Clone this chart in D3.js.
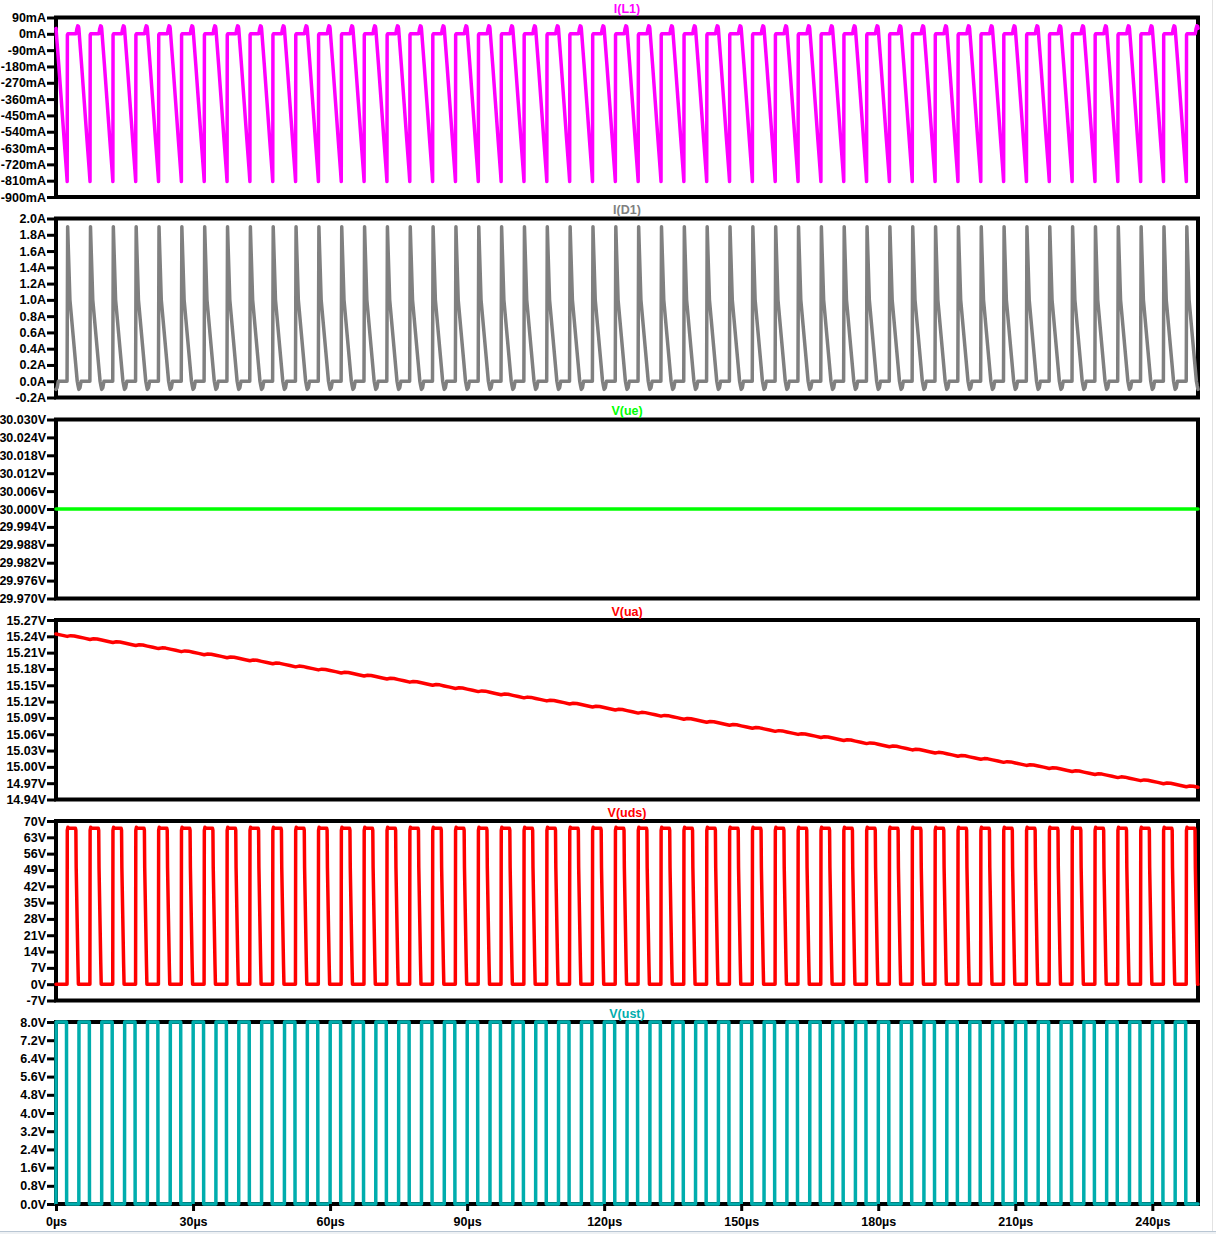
<!DOCTYPE html>
<html><head><meta charset="utf-8">
<script src="https://cdn.jsdelivr.net/npm/d3@7"></script>
<style>
html,body{margin:0;padding:0;background:#fff;}
svg{display:block;}
text{font-family:"Liberation Sans",Arial,sans-serif;font-weight:bold;font-size:12.5px;}
</style></head><body>
<svg id="chart" width="1216" height="1234"></svg>
<script>
// ---------------- data ----------------
const T_END = 250;          // µs
const PERIOD = 5;           // µs (200 kHz switching)

const xTickValues = [0, 30, 60, 90, 120, 150, 180, 210, 240];
const xTickLabels = ["0µs","30µs","60µs","90µs","120µs","150µs","180µs","210µs","240µs"];

const iL1Ticks = [90, 0, -90, -180, -270, -360, -450, -540, -630, -720, -810, -900];
const iL1TickLabels = ["90mA","0mA","-90mA","-180mA","-270mA","-360mA","-450mA","-540mA","-630mA","-720mA","-810mA","-900mA"];

const iD1Ticks = [2.0, 1.8, 1.6, 1.4, 1.2, 1.0, 0.8, 0.6, 0.4, 0.2, 0.0, -0.2];
const iD1TickLabels = ["2.0A","1.8A","1.6A","1.4A","1.2A","1.0A","0.8A","0.6A","0.4A","0.2A","0.0A","-0.2A"];

const ueTicks = [30.030, 30.024, 30.018, 30.012, 30.006, 30.000, 29.994, 29.988, 29.982, 29.976, 29.970];
const ueTickLabels = ["30.030V","30.024V","30.018V","30.012V","30.006V","30.000V","29.994V","29.988V","29.982V","29.976V","29.970V"];

const uaTicks = [15.27, 15.24, 15.21, 15.18, 15.15, 15.12, 15.09, 15.06, 15.03, 15.00, 14.97, 14.94];
const uaTickLabels = ["15.27V","15.24V","15.21V","15.18V","15.15V","15.12V","15.09V","15.06V","15.03V","15.00V","14.97V","14.94V"];

const udsTicks = [70, 63, 56, 49, 42, 35, 28, 21, 14, 7, 0, -7];
const udsTickLabels = ["70V","63V","56V","49V","42V","35V","28V","21V","14V","7V","0V","-7V"];

const ustTicks = [8.0, 7.2, 6.4, 5.6, 4.8, 4.0, 3.2, 2.4, 1.6, 0.8, 0.0];
const ustTickLabels = ["8.0V","7.2V","6.4V","5.6V","4.8V","4.0V","3.2V","2.4V","1.6V","0.8V","0.0V"];

// one switching period (phase in µs -> value)
const iL1Phase = [0,   0.6,  1.2,  1.8,  2.3,  2.45, 2.49, 2.6, 4.4, 4.55, 4.75, 4.9, 5];
const iL1Value = [30, -170, -380, -590, -760, -815, -5,   0,   0,   25,   44,   42,  30];

const iD1Phase = [0,    0.25,  0.5, 2.42, 2.55, 3.05, 4.65, 4.85,  5];
const iD1Value = [-0.1, -0.08, 0.0, 0.0,  1.9,  1.0,  0.0,  -0.06, -0.1];

const udsPhase = [0, 2.42, 2.47, 2.6,  2.8,  4.25, 4.35, 4.42, 4.8, 4.9, 5];
const udsValue = [0, 0,    66,   67.3, 66.9, 66.9, 66,   50,   9,   0,   0];

const ustPhase = [0, 0.03, 2.3, 2.33, 5];
const ustValue = [0, 8,    8,   0,    0];

const ueTimes  = [0, 250];
const ueValues = [30.000, 30.000];

// output voltage: slow trend (read every 25 µs) plus per-cycle ripple
const uaTrendTimes  = [0, 25, 50, 75, 100, 125, 150, 175, 200, 225, 250];
const uaTrendValues = [15.244, 15.216, 15.188, 15.160, 15.131, 15.103, 15.075, 15.047, 15.018, 14.990, 14.962];
const uaRipplePhase = [0,      1.2,     2.45,    3.2,    4.0,    5];
const uaRippleValue = [0.0004, -0.0004, -0.0014, 0.0008, 0.0012, 0.0004];

// ---------------- build ----------------
function periodic(phases, values) {
  const pts = [];
  const starts = d3.range(0, T_END, PERIOD);
  starts.forEach((t0, k) => {
    phases.forEach((p, i) => {
      if (i === phases.length - 1 && k < starts.length - 1) return;
      pts.push([t0 + p, values[i]]);
    });
  });
  return pts;
}

const uaTrendAt = d3.scaleLinear().domain(uaTrendTimes).range(uaTrendValues);
const uaData = periodic(uaRipplePhase, uaRippleValue).map(([t, r]) => [t, uaTrendAt(t) + r]);

const panes = [
  {title:"I(L1)",  color:"#ff00ff", top:17.5,  bottom:197,   ticks:iL1Ticks, labels:iL1TickLabels, data:periodic(iL1Phase, iL1Value)},
  {title:"I(D1)",  color:"#808080", top:218.5, bottom:397.5, ticks:iD1Ticks, labels:iD1TickLabels, data:periodic(iD1Phase, iD1Value)},
  {title:"V(ue)",  color:"#00ff00", top:419.5, bottom:598.5, ticks:ueTicks,  labels:ueTickLabels,  data:ueTimes.map((t,i)=>[t, ueValues[i]])},
  {title:"V(ua)",  color:"#ff0000", top:620,   bottom:799.5, ticks:uaTicks,  labels:uaTickLabels,  data:uaData},
  {title:"V(uds)", color:"#ff0000", top:821,   bottom:1000.5,ticks:udsTicks, labels:udsTickLabels, data:periodic(udsPhase, udsValue)},
  {title:"V(ust)", color:"#00adad", top:1022,  bottom:1204,  ticks:ustTicks, labels:ustTickLabels, data:periodic(ustPhase, ustValue)}
];

const svg = d3.select("#chart");
svg.append("rect").attr("width",1216).attr("height",1234).attr("fill","#fff");

const X0 = 56, X1 = 1198;
const x = d3.scaleLinear().domain([0, T_END]).range([X0, X1]);

const defs = svg.append("defs");
const FONT = '"Liberation Sans",Arial,sans-serif';

panes.forEach((p, idx) => {
  const y = d3.scaleLinear().domain(d3.extent(p.ticks)).range([p.bottom, p.top]);
  const g = svg.append("g");

  // frame
  g.append("rect")
    .attr("x", X0).attr("y", p.top)
    .attr("width", X1 - X0).attr("height", p.bottom - p.top)
    .attr("fill", "none").attr("stroke", "#000").attr("stroke-width", 4);

  // y axis
  const ax = g.append("g").attr("transform", `translate(${X0},0)`)
    .call(d3.axisLeft(y).tickValues(p.ticks).tickFormat((d, i) => p.labels[i]).tickSize(9).tickPadding(1));
  ax.select(".domain").remove();
  ax.selectAll(".tick line").attr("stroke", "#000").attr("stroke-width", 3);
  ax.selectAll(".tick text").attr("fill", "#000")
    .style("font-family", FONT).style("font-weight", "bold").style("font-size", "12.5px");

  // title
  g.append("text")
    .attr("x", (X0 + X1) / 2).attr("y", p.top - 4.5)
    .attr("text-anchor", "middle").attr("fill", p.color)
    .text(p.title);

  // clip
  const cid = "clip" + idx;
  defs.append("clipPath").attr("id", cid).append("rect")
    .attr("x", X0 - 2).attr("y", p.top - 3)
    .attr("width", X1 - X0 + 4).attr("height", p.bottom - p.top + 6);

  const line = d3.line().x(d => x(d[0])).y(d => y(d[1]));
  g.append("path")
    .attr("clip-path", `url(#${cid})`)
    .attr("d", line(p.data))
    .attr("fill", "none").attr("stroke", p.color)
    .attr("stroke-width", 3.5).attr("stroke-linejoin", "round").attr("stroke-linecap", "round");
});

// x axis on the bottom pane
const last = panes[panes.length - 1];
const xa = svg.append("g").attr("transform", `translate(0,${last.bottom})`)
  .call(d3.axisBottom(x).tickValues(xTickValues).tickFormat((d, i) => xTickLabels[i]).tickSize(7).tickPadding(6));
xa.select(".domain").remove();
xa.selectAll(".tick line").attr("stroke", "#000").attr("stroke-width", 3);
xa.selectAll(".tick text").attr("fill", "#000")
  .style("font-family", FONT).style("font-weight", "bold").style("font-size", "12.5px");

// window border remnants
svg.append("line").attr("x1", 1212.5).attr("x2", 1212.5).attr("y1", 0).attr("y2", 1231)
  .attr("stroke", "#e2e2e2").attr("stroke-width", 1);
svg.append("rect").attr("x", 0).attr("y", 1231).attr("width", 1216).attr("height", 3).attr("fill", "#eef1f4");
svg.append("line").attr("x1", 0).attr("x2", 1216).attr("y1", 1231.5).attr("y2", 1231.5)
  .attr("stroke", "#b9c6d3").attr("stroke-width", 1);
</script>
</body></html>
